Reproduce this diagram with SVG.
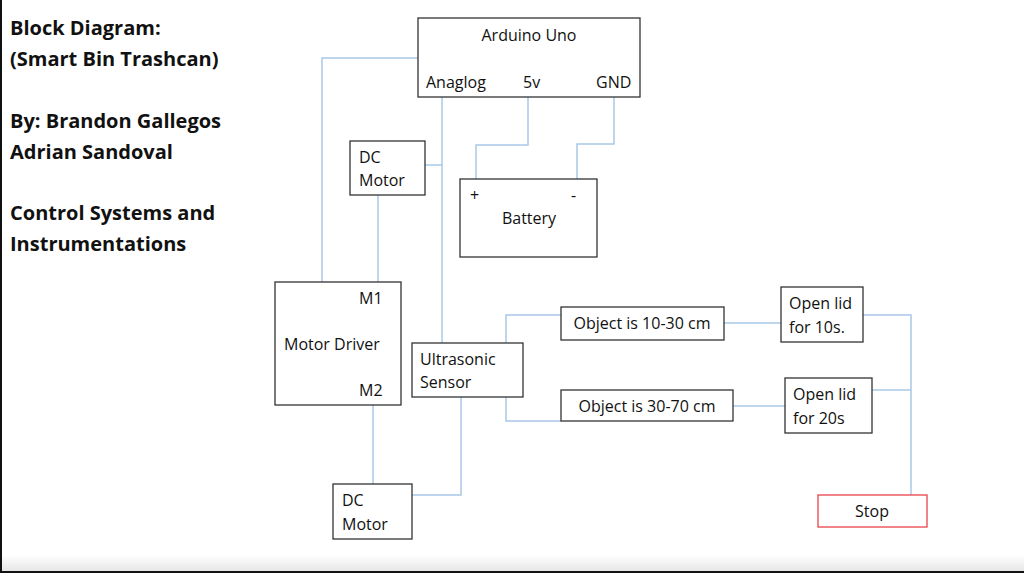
<svg xmlns="http://www.w3.org/2000/svg" width="1024" height="573" viewBox="0 0 1024 573">
<style>
.b{fill:#fff;stroke:#333;stroke-width:1.3}
.w{fill:none;stroke:#a9c8e8;stroke-width:1.5}
text{font-family:"Open Sans","Liberation Sans",sans-serif;font-size:16px;fill:#111}
.t{font-size:20px;font-weight:bold}
</style>
<defs><linearGradient id="g" x1="0" y1="0" x2="0" y2="1"><stop offset="0" stop-color="#fff"/><stop offset="1" stop-color="#e6e6e6"/></linearGradient></defs>
<rect width="1024" height="573" fill="#fff"/>
<rect x="0" y="555" width="1024" height="16" fill="url(#g)"/>
<line x1="0" y1="572" x2="1024" y2="572" stroke="#111" stroke-width="2"/>
<line x1="1" y1="0" x2="1" y2="573" stroke="#111" stroke-width="2"/>
<g id="title">
<text class="t" x="10" y="35">Block Diagram:</text>
<text class="t" x="10" y="66">(Smart Bin Trashcan)</text>
<text class="t" x="10" y="128">By: Brandon Gallegos</text>
<text class="t" x="10" y="159">Adrian Sandoval</text>
<text class="t" x="10" y="220">Control Systems and</text>
<text class="t" x="10" y="251">Instrumentations</text>
</g>
<g id="connectors">
<polyline class="w" points="418,58 322,58 322,282"/>
<polyline class="w" points="442,97 442,343"/>
<polyline class="w" points="425,165 442,165"/>
<polyline class="w" points="378,195 378,282"/>
<polyline class="w" points="528,97 528,145 476,145 476,179"/>
<polyline class="w" points="614,97 614,144 577,144 577,179"/>
<polyline class="w" points="373,405 373,484"/>
<polyline class="w" points="461,397 461,495 412,495"/>
<polyline class="w" points="506,343 506,315 561,315"/>
<polyline class="w" points="506,397 506,421 561,421"/>
<polyline class="w" points="724,323 781,323"/>
<polyline class="w" points="733,406 785,406"/>
<polyline class="w" points="863,315 911,315 911,495"/>
<polyline class="w" points="872,390 911,390"/>
</g>
<g id="arduino"><rect class="b" x="418" y="18" width="222" height="79"/>
<text x="529" y="41" text-anchor="middle">Arduino Uno</text>
<text x="426" y="88">Anaglog</text><text x="523" y="88">5v</text><text x="596" y="88">GND</text></g>
<g id="dcmotor1"><rect class="b" x="350" y="141" width="75" height="54"/>
<text x="359" y="163">DC</text><text x="359" y="186">Motor</text></g>
<g id="battery"><rect class="b" x="460" y="179" width="137" height="78"/>
<text x="470" y="201">+</text><text x="571" y="201">-</text>
<text x="529" y="224" text-anchor="middle">Battery</text></g>
<g id="motordriver"><rect class="b" x="275" y="282" width="126" height="123"/>
<text x="359" y="304">M1</text><text x="284" y="350">Motor Driver</text><text x="359" y="396">M2</text></g>
<g id="sensor"><rect class="b" x="412" y="343" width="111" height="54"/>
<text x="420" y="365">Ultrasonic</text><text x="420" y="388">Sensor</text></g>
<g id="obj1"><rect class="b" x="561" y="307" width="163" height="33"/>
<text x="642" y="329" text-anchor="middle">Object is 10-30 cm</text></g>
<g id="obj2"><rect class="b" x="561" y="390" width="172" height="31"/>
<text x="647" y="412" text-anchor="middle">Object is 30-70 cm</text></g>
<g id="lid1"><rect class="b" x="781" y="287" width="82" height="55"/>
<text x="789" y="309">Open lid</text><text x="789" y="333">for 10s.</text></g>
<g id="lid2"><rect class="b" x="785" y="378" width="87" height="55"/>
<text x="793" y="400">Open lid</text><text x="793" y="424">for 20s</text></g>
<g id="dcmotor2"><rect class="b" x="333" y="484" width="79" height="55"/>
<text x="342" y="506">DC</text><text x="342" y="530">Motor</text></g>
<g id="stop"><rect x="818" y="495" width="109" height="32" fill="#fff" stroke="#e8434a" stroke-width="1.3"/>
<text x="872" y="517" text-anchor="middle">Stop</text></g>
</svg>
